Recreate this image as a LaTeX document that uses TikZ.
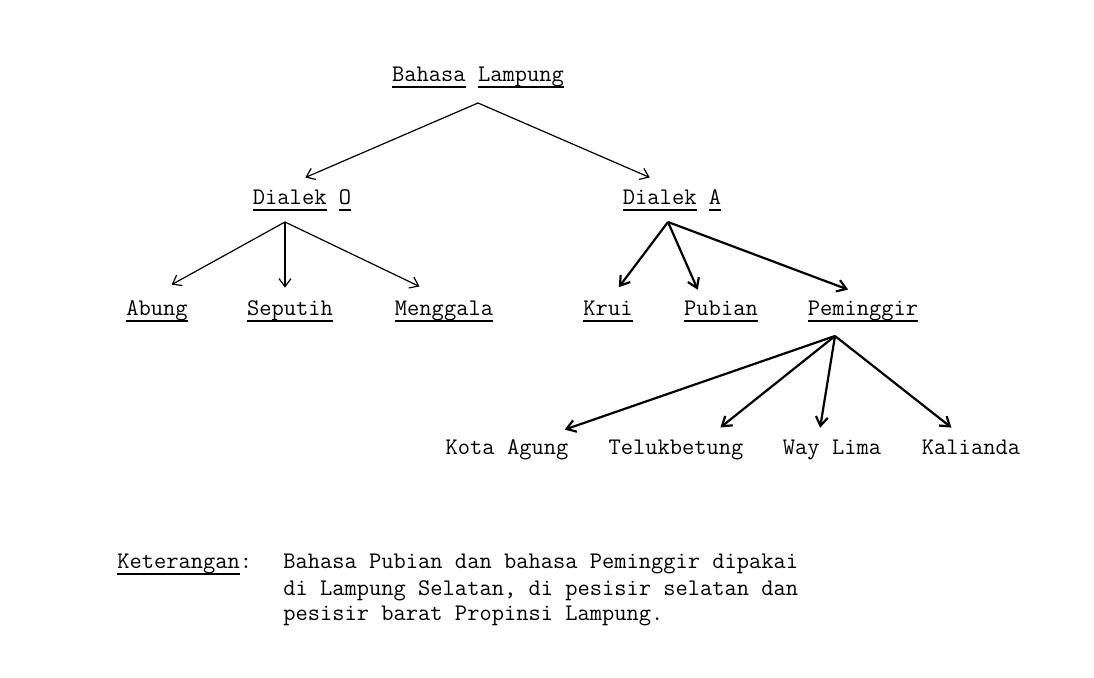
\documentclass[tikz,border=0pt]{standalone}
\usepackage{fontspec}
\usetikzlibrary{arrows.meta,calc}
\newcommand\ul[1]{\sbox0{#1}\rlap{\raisebox{-3pt}{\rule{\wd0}{0.9pt}}}\usebox0}
\begin{document}
\begin{tikzpicture}[x=0.5pt,y=-0.5pt,
        every node/.style={font=\ttfamily\fontsize{11.9pt}{14pt}\selectfont, inner sep=0pt, anchor=base, text height=7pt, text depth=2pt},
        thin arrow/.style={-{Straight Barb[length=4pt,width=6pt]}, line width=0.6pt},
        thick arrow/.style={-{Straight Barb[length=4.5pt,width=6pt]}, line width=1.1pt}]
        \useasboundingbox (0,0) rectangle (1094,678);
        \node (root) at (478,82) {\ul{Bahasa} \ul{Lampung}};
        \node (dialO) at (302,205) {\ul{Dialek} \ul{O}};
        \node (dialA) at (672,205) {\ul{Dialek} \ul{A}};
        \node (abung) at (157,316) {\ul{Abung}};
        \node (seputih) at (290,316) {\ul{Seputih}};
        \node (menggala) at (444,316) {\ul{Menggala}};
        \node (krui) at (608,316) {\ul{Krui}};
        \node (pubian) at (721,316) {\ul{Pubian}};
        \node (peminggir) at (863,316) {\ul{Peminggir}};
        \node (kota) at (507,455) {Kota Agung};
        \node (teluk) at (676,455) {Telukbetung};
        \node (waylima) at (832,455) {Way Lima};
        \node (kalianda) at (971,455) {Kalianda};
        \coordinate (rootfork) at ($(root.base)+(0,21)$);
        \coordinate (dialOfork) at ($(dialO.base)+(-17,17)$);
        \coordinate (dialAfork) at ($(dialA.base)+(-4,17)$);
        \coordinate (pemfork) at ($(peminggir.base)+(-28,20)$);
        \foreach \from/\to/\dx/\cut in {rootfork/dialO/-27/16.5pt, rootfork/dialA/8/16.5pt,
                dialOfork/abung/-16/17.5pt, dialOfork/seputih/-5/7pt, dialOfork/menggala/7/17.5pt}
            \draw[thin arrow, shorten >=\cut] (\from) -- ($(\to.north)+(\dx,0)$);
        \foreach \from/\to/\dx/\cut in {dialAfork/krui/0/9pt, dialAfork/pubian/-18/6.5pt, dialAfork/peminggir/17/17pt,
                pemfork/kota/26/16.75pt, pemfork/teluk/28/10.5pt, pemfork/waylima/-14/6.5pt, pemfork/kalianda/-3/10.5pt}
            \draw[thick arrow, shorten >=\cut] (\from) -- ($(\to.north)+(\dx,0)$);
        \node[anchor=base west] (ket) at (117,569) {\ul{Keterangan}:};
        \node[anchor=base west] (note1) at (283,569) {Bahasa Pubian dan bahasa Peminggir dipakai};
        \node[anchor=base west] (note2) at (283,596) {di Lampung Selatan, di pesisir selatan dan};
        \node[anchor=base west] (note3) at (283,621) {pesisir barat Propinsi Lampung.};
\end{tikzpicture}
\end{document}
